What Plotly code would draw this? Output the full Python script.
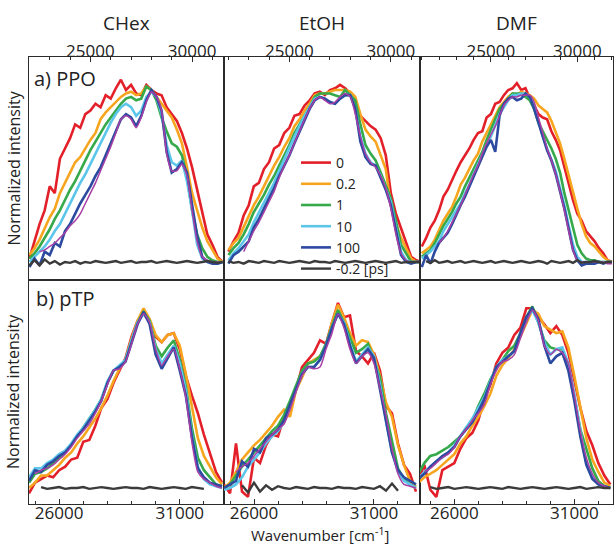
import plotly.graph_objects as go

# ---------------- labels ----------------
solvents = ["CHex", "EtOH", "DMF"]
row_labels = ["a) PPO", "b) pTP"]
delay_labels = ["0", "0.2", "1", "10", "100"]
background_label = "-0.2 [ps]"
x_title = "Wavenumber [cm<sup>-1</sup>]"
y_title = "Normalized intensity"

# ---------------- wavenumber grids (cm-1) ----------------
wn_ppo_chex = list(range(22000, 31501, 250))
wn_ppo_etoh = list(range(22000, 31501, 250))
wn_ppo_dmf = list(range(21000, 32001, 250))
wn_ptp_chex = list(range(24750, 32751, 250))
wn_ptp_etoh = list(range(24750, 32751, 250))
wn_ptp_dmf = list(range(24500, 32501, 250))

# ---------------- a) PPO / CHex ----------------
ppo_chex_0 = [2,12,22,30,44,40,60,66,72,80,78,86,88,92,90,97,95,101,106,100,103,98,97,103,100,98,97,90,86,82,75,66,55,42,28,16,10,3,0]
ppo_chex_02 = [4,8,13,20,26,31,40,46,52,58,61,66,71,75,83,87,90,93,96,98,99,97,98,102,100,96,92,88,84,77,69,55,40,30,20,12,7,2,0]
ppo_chex_1 = [2,5,9,14,19,25,30,36,42,47,53,59,65,70,75,80,84,88,92,95,96,94,95,102,100,94,84,76,69,67,62,50,30,16,8,3,1,0,0]
ppo_chex_10 = [0,3,6,9,13,18,22,28,34,40,46,51,57,63,69,75,81,86,90,92,90,85,88,96,99,96,86,68,58,56,59,47,30,10,2,0,0,-1,0]
ppo_chex_100 = [-3,2,-2,6,4,11,9,18,22,28,34,39,44,50,55,62,69,76,83,86,84,79,85,94,100,96,88,64,52,54,58,52,32,15,3,0,-1,-1,0]
ppo_chex_fit = [None,None,6,7,9,11,14,17,21,24,28,34,40,46,53,60,67,75,83,85,83,78,84,93,99,96,88,63,53,53,57,50,30,12,3,1,0,0,0]
ppo_chex_bg = [-2,1,-2,1.5,-1,0.5,-1.5,0,-0.5,0.5,-1,0,-0.5,0.5,0,-0.5,0,0.5,-0.5,0,0.5,-0.5,0,0,0.5,-0.5,0,0.5,0,-0.5,0,0.5,0,-0.5,0,0.5,0,-0.5,0]

# ---------------- a) PPO / EtOH ----------------
ppo_etoh_0 = [6,12,17,27,33,44,46,54,58,66,68,75,78,85,86,91,94,98,99,97,100,101,103,101,98,92,85,82,79,77,72,62,40,28,20,12,3,1,0]
ppo_etoh_02 = [7,11,14,20,27,33,38,44,50,56,61,67,72,79,83,88,92,97,98,98,99,100,100,100,99,96,86,77,73,70,62,54,33,22,14,8,2,0,0]
ppo_etoh_1 = [4,8,11,16,22,29,34,39,45,50,56,62,68,75,80,85,90,96,98,98,98,97,96,100,97,94,80,68,63,59,52,45,37,24,10,5,0,0,0]
ppo_etoh_10 = [1,5,8,12,16,23,29,35,40,46,53,60,66,73,79,85,90,95,96,95,93,92,95,97,97,89,73,63,58,56,50,42,35,20,6,1,0,0,0]
ppo_etoh_100 = [-1,4,6,9,12,20,25,31,37,43,50,56,62,69,76,83,89,94,96,95,93,92,95,97,97,89,70,61,57,56,49,42,33,18,4,0,-1,0,0]
ppo_etoh_fit = [None,None,None,6,12,18,23,29,35,41,49,56,62,69,76,83,89,94,96,94,92,93,96,98,96,86,73,63,58,55,50,43,31,16,5,1,0,0,0]
ppo_etoh_bg = [0.5,-0.5,0,-1,0.5,0,-0.5,0.5,0,-0.5,0.5,0,-0.5,0,0.5,0,-0.5,0.5,0,0,-0.5,0.5,0,-0.5,0,0.5,0,-0.5,0,0.5,0,-0.5,0,0.5,-0.5,0,0,0,0]

# ---------------- a) PPO / DMF ----------------
ppo_dmf_0 = [9,14,20,24,30,38,42,48,53,58,62,66,71,75,76,84,86,92,93,97,100,101,104,100,101,95,91,86,84,83,76,71,65,55,46,36,28,24,18,15,12,8,5,1,0]
ppo_dmf_02 = [5,7,9,13,19,24,28,32,38,45,49,54,59,63,70,75,80,85,90,93,96,98,97,99,98,97,95,91,89,87,82,76,69,60,50,40,31,22,15,11,9,6,3,1,0]
ppo_dmf_1 = [3,5,7,11,16,21,25,29,34,38,44,49,54,59,64,71,77,83,89,92,95,98,98,98,96,94,89,81,76,71,66,60,52,40,30,19,10,5,2,1,1,0,0,0,0]
ppo_dmf_10 = [2,4,6,9,12,18,22,26,30,34,40,45,51,57,63,68,73,80,86,90,94,97,97,98,98,96,90,82,73,66,60,53,43,33,21,10,3,0,0,0,0,0,0,0,0]
ppo_dmf_100 = [-3,4,-1,6,11,14,17,22,28,33,38,44,49,55,61,67,71,64,85,92,95,96,94,95,98,96,89,81,73,65,59,51,41,31,19,7,1,-2,-1,-1,-1,0,-1,0,0]
ppo_dmf_fit = [None,None,None,None,11,14,18,23,28,33,39,45,51,56,63,69,74,79,85,91,94,96,96,97,97,97,93,84,75,66,59,51,41,30,18,7,1,0,0,0,0,0,0,-1,-1]
ppo_dmf_bg = [None,0.5,-0.5,1,-0.5,0,0.5,-0.5,0,0.5,-0.5,0,0.5,0,-0.5,0,0.5,-0.5,0,0.5,0,-0.5,0,0.5,0,-0.5,0,0.5,0,-1,0.5,0,-0.5,0,0.5,-0.5,1,-0.5,0,0,0.5,0,-0.5,0,0]

# ---------------- b) pTP / CHex ----------------
ptp_chex_0 = [-3,3,5,7,6,10,12,16,17,26,27,35,45,50,59,66,73,85,94,98,93,85,82,86,87,78,63,52,42,30,20,9,3]
ptp_chex_02 = [0,3,7,7,10,13,17,20,25,29,34,39,45,52,60,67,72,84,94,101,95,86,82,86,87,80,64,46,28,18,12,6,2]
ptp_chex_1 = [3,8,9,11,14,17,20,24,29,34,39,44,50,59,66,68,72,83,93,99,94,80,74,79,83,72,57,34,17,10,6,2,1]
ptp_chex_10 = [6,11,11,14,16,19,21,25,30,34,39,44,50,60,66,69,72,83,93,98,93,78,70,75,80,70,55,30,12,5,2,1,0]
ptp_chex_100 = [4,10,9,13,15,18,20,24,29,33,38,43,49,59,66,68,71,82,92,99,92,75,67,73,79,66,52,29,11,6,3,2,1]
ptp_chex_fit = [None,8,10,11,13,16,19,23,28,32,36,42,49,58,66,67,71,81,92,98,93,78,69,74,78,67,51,26,9,5,3,1,0]
ptp_chex_bg = [None,None,0.5,-0.5,0,0.5,-0.5,0,0,0.5,-0.5,0,0.5,0,-0.5,0,0.5,0,0,-0.5,0.5,0,-0.5,0,0.5,0,-0.5,0.5,0,-0.5,None,None,None]

# ---------------- b) pTP / EtOH ----------------
ptp_etoh_0 = [2,-3,25,-2,-5,17,14,24,30,29,40,45,55,68,72,76,83,81,93,104,96,97,77,74,70,76,66,46,42,25,13,8,-2]
ptp_etoh_02 = [0,3,9,16,20,24,27,31,35,40,44,40,55,62,70,72,74,80,93,103,96,87,80,83,82,75,63,48,40,24,13,4,1]
ptp_etoh_1 = [0,2,7,12,16,20,24,28,32,35,41,49,58,66,70,71,74,81,91,100,93,84,76,78,81,72,62,42,26,11,5,2,0]
ptp_etoh_10 = [-1,0,2,6,12,16,20,25,29,32,37,46,55,64,68,68,72,80,90,98,93,81,71,75,79,74,58,38,20,9,4,2,0]
ptp_etoh_100 = [0,2,4,15,12,22,20,28,30,33,38,47,56,64,68,68,72,80,90,98,92,80,70,74,78,73,55,37,20,10,6,4,2]
ptp_etoh_fit = [None,None,9,12,14,18,22,26,30,33,36,44,54,63,68,67,68,78,87,98,90,78,70,74,76,70,56,41,22,8,2,1,0]
ptp_etoh_bg = [None,None,None,1.5,-2.5,3,-2,1.5,-1,1,0,-0.5,0.5,0,-0.5,0.5,0,0,-0.5,0.5,0,0,-0.5,0.5,0,-0.5,1,-1.5,2.5,-1.5,None,None,None]

# ---------------- b) pTP / DMF ----------------
ptp_dmf_0 = [4,13,-1,-5,10,12,14,22,28,31,38,50,58,70,76,79,86,90,101,101,96,92,87,91,86,76,60,45,32,24,14,7,2]
ptp_dmf_02 = [3,6,8,10,13,16,19,25,29,35,40,46,53,63,69,73,78,85,93,100,98,91,89,87,88,79,63,45,28,16,9,3,1]
ptp_dmf_1 = [8,14,18,19,21,23,26,29,34,38,46,53,61,67,72,77,80,87,96,102,93,83,79,78,78,69,51,33,22,11,4,1,0]
ptp_dmf_10 = [5,9,12,15,17,20,24,29,34,39,45,51,60,68,72,74,77,86,95,100,93,82,75,78,79,70,53,32,14,6,2,1,0]
ptp_dmf_100 = [5,8,12,15,18,20,23,29,33,37,43,50,59,68,71,74,77,87,96,101,95,80,70,74,76,66,49,29,13,5,2,1,0]
ptp_dmf_fit = [None,9,11,14,17,19,23,29,33,38,42,47,58,66,71,72,75,84,93,100,94,80,75,78,76,70,52,32,17,8,3,1,0]
ptp_dmf_bg = [None,None,0.5,-0.5,0,0.5,-0.5,0,0.5,0,-0.5,0,0.5,0,-0.5,0.5,0,-0.5,0,0.5,0,-0.5,0,0.5,0,-0.5,0,0.5,-0.5,0,0.5,0,0]

# ---------------- styling ----------------
delay_colors = ["#E3202A", "#F7A51E", "#36A94A", "#5CC6EA", "#2C4A9F"]
fit_color = "#A83FA6"
bg_color = "#3B3B3B"
axis_color = "#2b2b2b"
text_color = "#222222"
FONT = "Open Sans, Liberation Sans, sans-serif"

panels = [
    (wn_ppo_chex, [ppo_chex_0, ppo_chex_02, ppo_chex_1, ppo_chex_10, ppo_chex_100], ppo_chex_fit, ppo_chex_bg),
    (wn_ppo_etoh, [ppo_etoh_0, ppo_etoh_02, ppo_etoh_1, ppo_etoh_10, ppo_etoh_100], ppo_etoh_fit, ppo_etoh_bg),
    (wn_ppo_dmf, [ppo_dmf_0, ppo_dmf_02, ppo_dmf_1, ppo_dmf_10, ppo_dmf_100], ppo_dmf_fit, ppo_dmf_bg),
    (wn_ptp_chex, [ptp_chex_0, ptp_chex_02, ptp_chex_1, ptp_chex_10, ptp_chex_100], ptp_chex_fit, ptp_chex_bg),
    (wn_ptp_etoh, [ptp_etoh_0, ptp_etoh_02, ptp_etoh_1, ptp_etoh_10, ptp_etoh_100], ptp_etoh_fit, ptp_etoh_bg),
    (wn_ptp_dmf, [ptp_dmf_0, ptp_dmf_02, ptp_dmf_1, ptp_dmf_10, ptp_dmf_100], ptp_dmf_fit, ptp_dmf_bg),
]

x_ranges = [[21980, 31570], [21782, 31436], [20896, 32064],
            [24750, 32833], [24750, 32917], [24570, 32611]]
y_ranges = [[-10.5, 119.2], [-9.0, 116.9]]

W, H = 614, 546
ML, MR, MT, MB = 29, 1, 57, 42
PW, PH = W - ML - MR, H - MT - MB
col_px = [(29, 224), (224, 420), (420, 613)]
row_px = [(57, 280), (280, 504)]


def px_x(p):
    return (p - ML) / PW


def px_y(p):
    return (H - MB - p) / PH


fig = go.Figure()
for k, (wn, series, fit, bg) in enumerate(panels, start=1):
    xa = "x" if k == 1 else f"x{k}"
    ya = "y" if k == 1 else f"y{k}"
    for vals, col, name in zip(series, delay_colors, delay_labels):
        fig.add_trace(go.Scatter(x=wn, y=vals, mode="lines", name=name,
                                 line=dict(color=col, width=2.6),
                                 showlegend=(k == 2), legendgroup=name,
                                 xaxis=xa, yaxis=ya))
    fig.add_trace(go.Scatter(x=wn, y=fit, mode="lines", name="fit",
                             line=dict(color=fit_color, width=1.5, shape="spline", smoothing=0.6),
                             showlegend=False, xaxis=xa, yaxis=ya))
    fig.add_trace(go.Scatter(x=wn, y=bg, mode="lines", name=background_label,
                             line=dict(color=bg_color, width=2.4),
                             showlegend=(k == 2), legendgroup="bg",
                             xaxis=xa, yaxis=ya))

layout = dict(
    width=W, height=H,
    margin=dict(l=ML, r=MR, t=MT, b=MB),
    paper_bgcolor="white", plot_bgcolor="white",
    font=dict(family=FONT, color=text_color, size=16),
    legend=dict(x=px_x(296), y=px_y(147), xanchor="left", yanchor="top",
                bgcolor="rgba(0,0,0,0)", font=dict(size=14, family=FONT, color=text_color),
                tracegroupgap=0, itemwidth=30),
)

for k in range(1, 7):
    r = 0 if k <= 3 else 1
    c = (k - 1) % 3
    xd = [px_x(col_px[c][0]), px_x(col_px[c][1])]
    yd = [px_y(row_px[r][1]), px_y(row_px[r][0])]
    xkey = "xaxis" if k == 1 else f"xaxis{k}"
    ykey = "yaxis" if k == 1 else f"yaxis{k}"
    yref = "y" if k == 1 else f"y{k}"
    xref = "x" if k == 1 else f"x{k}"
    layout[xkey] = dict(
        domain=xd, anchor=yref, range=x_ranges[k - 1],
        side="top" if r == 0 else "bottom",
        tick0=0 if r == 0 else 1000, dtick=5000, tickformat="d",
        ticks="inside", ticklen=5, tickwidth=1.2, tickcolor=axis_color,
        ticklabelstandoff=-8 if r == 0 else -6,
        minor=dict(dtick=1000, ticks="inside", ticklen=3, tickwidth=1.2, tickcolor=axis_color),
        showline=True, linecolor=axis_color, linewidth=1, mirror=True,
        showgrid=False, zeroline=False,
        tickfont=dict(size=17, family=FONT, color=text_color),
    )
    layout[ykey] = dict(
        domain=yd, anchor=xref, range=y_ranges[r],
        showticklabels=False, ticks="",
        showline=True, linecolor=axis_color, linewidth=1, mirror=True,
        showgrid=False, zeroline=False,
    )


def note(text, px, py, size, xanchor="center", angle=0):
    return dict(text=text, x=px_x(px), y=px_y(py), xref="paper", yref="paper",
                xanchor=xanchor, yanchor="middle", textangle=angle, showarrow=False,
                font=dict(size=size, family=FONT, color=text_color))


annotations = []
for c, name in enumerate(solvents):
    cx = (col_px[c][0] + col_px[c][1]) / 2
    annotations.append(note(name, cx, 23, 19))
annotations.append(note(row_labels[0], 32, 79, 20, xanchor="left"))
annotations.append(note(row_labels[1], 34, 298, 20, xanchor="left"))
for r in range(2):
    cy = (row_px[r][0] + row_px[r][1]) / 2
    annotations.append(note(y_title, 13, cy, 16, angle=-90))
annotations.append(note(x_title, 320, 534, 15))
layout["annotations"] = annotations

fig.update_layout(**layout)
fig.write_html("out.html", config={"displayModeBar": False},
               post_script="document.body.style.margin='0';document.body.style.overflow='hidden';")
